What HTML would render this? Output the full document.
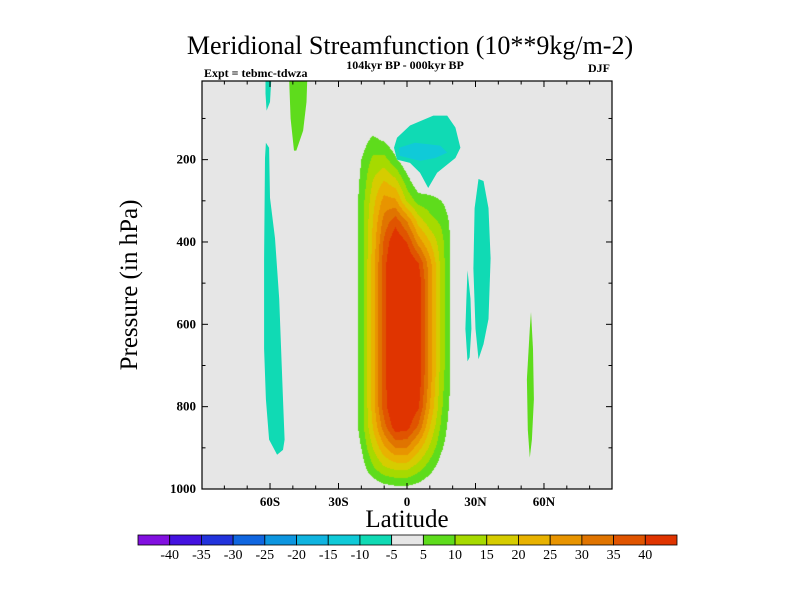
<!DOCTYPE html>
<html><head><meta charset="utf-8">
<style>
body{margin:0;background:#fff;width:800px;height:600px;overflow:hidden;position:relative;font-family:"Liberation Serif",serif;}
#wrap{position:absolute;left:0;top:0;width:800px;height:600px;}
canvas{position:absolute;left:0;top:0;}
svg{position:absolute;left:0;top:0;}
</style></head><body>
<div id="wrap">
<canvas id="field" width="800" height="600"></canvas>
<svg id="svg" width="800" height="600" xmlns="http://www.w3.org/2000/svg">
<text x="410" y="54" text-anchor="middle" font-size="26">Meridional Streamfunction (10**9kg/m-2)</text>
<text x="405" y="69" text-anchor="middle" font-size="12" font-weight="bold">104kyr BP - 000kyr BP</text>
<text x="204" y="77" font-size="12" font-weight="bold">Expt = tebmc-tdwza</text>
<text x="610" y="72" text-anchor="end" font-size="12" font-weight="bold">DJF</text>
<text x="0" y="0" transform="translate(137,285) rotate(-90)" text-anchor="middle" font-size="25">Pressure (in hPa)</text>
<text x="407" y="527" text-anchor="middle" font-size="25">Latitude</text>
<g id="marks"></g>
<g id="axes"></g>
<g id="cbar"></g>
</svg>
</div>
<script>
// ---- data ----
const gridLats = [-25,-20,-15,-10,-5,0,5,10,15,20,25];
const gridPres = [100,150,200,250,300,350,400,450,500,550,600,650,700,750,800,850,900,950,1000];
const gridVals = [
 [0,0,0,0,0,0,0,0,0,0,0],
 [0,2,6,4,0,0,0,0,0,0,0],
 [0,5,11,12,6,0,0,0,0,0,0],
 [0,6,15,20,16,7,0,0,0,0,0],
 [0,7,18,27,26,14,8,7,5,2,0],
 [0,7,20,32,38,30,18,12,9,3,0],
 [0,7,21,36,45,40,28,20,12,3,0],
 [0,7,22,38,48,46,40,27,13,3,0],
 [0,7,22,38,48,46,44,28,13,3,0],
 [0,7,22,38,48,46,44,28,13,3,0],
 [0,7,22,38,48,46,44,28,13,3,0],
 [0,7,22,38,48,46,44,28,13,3,0],
 [0,7,22,38,48,46,44,28,13,3,0],
 [0,7,22,38,48,46,43,27,12,3,0],
 [0,7,22,38,47,46,41,25,11,2,0],
 [0,7,20,33,43,42,34,20,9,1,0],
 [0,5,15,24,30,30,22,14,6,0,0],
 [0,2,9,14,16,16,12,7,2,0,0],
 [0,0,0,2,3,3,2,0,0,0,0]
];
// isolated contour regions: [level value, outline as [lat, pressure] pairs]
const regionLevels = [-7, -7, 7, -7, -12, -7, -7, 7];
const regionOutlines = [
 [[-62,0],[-59.5,0],[-60,60],[-61.5,81],[-62,40]],
 [[-61.8,159],[-60.4,171],[-60,293],[-57.8,391],[-56,538],[-54.3,782],[-53.6,880],[-54.3,905],[-56.9,917],[-60.4,880],[-61.8,782],[-62.6,660],[-62.6,440],[-62.2,196]],
 [[-51.6,0],[-43.7,0],[-44,60],[-45.5,130],[-48.5,178],[-49.5,178],[-51,100]],
 [[-4.4,147],[1.3,117],[11.5,93],[17.6,93],[21.2,122],[23.4,171],[21.2,196],[13.2,232],[9.3,269],[5.7,232],[1.3,208],[-4.4,200],[-5.7,171]],
 [[-3.5,171],[3.5,159],[14.6,166],[17.6,183],[12.4,196],[5.7,203],[-3.1,191]],
 [[31.3,247],[33.5,252],[35.7,318],[36.6,440],[35.7,587],[33.5,648],[31.3,685],[30,611],[29.1,465],[29.6,318]],
 [[26.5,469],[27.8,538],[28.2,611],[27.4,680],[26.5,690],[25.6,611],[26,538]],
 [[54.3,570],[55.2,660],[55.6,782],[54.7,880],[53.8,924],[52.9,856],[52.5,733],[53.8,611]]
];
const cbarColors = ["#8210e0","#4412e0","#2233dc","#1066e0","#0d96e0","#10b4e0","#10cad8","#10dab4","#e6e6e6","#5edc1c","#a6da00","#d6cc00","#e8b200","#e89400","#e07400","#e05400","#e03400"];
const cbarLabels = ["-40","-35","-30","-25","-20","-15","-10","-5","5","10","15","20","25","30","35","40"];
const latTicks = [-60,-30,0,30,60];
const latTickLabels = ["60S","30S","0","30N","60N"];
const presTicks = [200,400,600,800,1000];

// ---- axes ----
const X0=202, X1=612, Y0=81, Y1=489;
function lx(lat){return 407 + lat*2.283;}
function py(p){return 489 - (1000-p)*0.4117;}
function plat(x){return (x-407)/2.283;}
function ppres(y){return 1000-(489-y)/0.4117;}
function levelIndex(v){
  if(v<-5) return Math.max(0,Math.floor((v+45)/5));
  if(v>=5) return Math.min(16,9+Math.floor((v-5)/5));
  return 8;
}
function sample(lat,p){
  const nl=gridLats.length, np=gridPres.length;
  if(lat<gridLats[0]||lat>gridLats[nl-1]||p<gridPres[0]||p>gridPres[np-1]) return 0;
  let i=0; while(i<nl-2 && lat>gridLats[i+1]) i++;
  let j=0; while(j<np-2 && p>gridPres[j+1]) j++;
  const tx=(lat-gridLats[i])/(gridLats[i+1]-gridLats[i]);
  const ty=(p-gridPres[j])/(gridPres[j+1]-gridPres[j]);
  const a=gridVals[j][i],b=gridVals[j][i+1],c=gridVals[j+1][i],d=gridVals[j+1][i+1];
  return (a*(1-tx)+b*tx)*(1-ty)+(c*(1-tx)+d*tx)*ty;
}
function hex(c){return [parseInt(c.substr(1,2),16),parseInt(c.substr(3,2),16),parseInt(c.substr(5,2),16)];}
const rgb = cbarColors.map(hex);
const ctx=document.getElementById('field').getContext('2d');
const img=ctx.createImageData(X1-X0,Y1-Y0);
for(let y=Y0;y<Y1;y++){for(let x=X0;x<X1;x++){
  const v=sample(plat(x+0.5),ppres(y+0.5));
  const c=rgb[levelIndex(v)];
  const k=((y-Y0)*(X1-X0)+(x-X0))*4;
  img.data[k]=c[0];img.data[k+1]=c[1];img.data[k+2]=c[2];img.data[k+3]=255;
}}
ctx.putImageData(img,X0,Y0);

const NS="http://www.w3.org/2000/svg";
function mk(tag,attrs,parent){const e=document.createElementNS(NS,tag);for(const k in attrs)e.setAttribute(k,attrs[k]);parent.appendChild(e);return e;}
const marks=document.getElementById('marks');
regionOutlines.forEach((pts,i)=>{
  const d=pts.map((q,n)=>(n?'L':'M')+lx(q[0]).toFixed(1)+','+Math.max(Y0,py(q[1])).toFixed(1)).join('')+'Z';
  const e=mk('path',{d:d,fill:cbarColors[levelIndex(regionLevels[i])]},marks);
  
  
});

const axes=document.getElementById('axes');
const fr=mk('rect',{x:X0,y:Y0,width:X1-X0,height:Y1-Y0,fill:'none',stroke:'#000','stroke-width':1.2},axes);


for(let lat=-80;lat<=80;lat+=10){
  const major=latTicks.includes(lat);
  const L=major?6:3.5;
  const x=lx(lat);
  const t1=mk('line',{x1:x,x2:x,y1:Y1,y2:Y1-L,stroke:'#000'},axes);
  
  
  const t2=mk('line',{x1:x,x2:x,y1:Y0,y2:Y0+L,stroke:'#000'},axes);
  
  
}
latTicks.forEach((lat,i)=>{
  const t=mk('text',{x:lx(lat),y:506,'text-anchor':'middle','font-size':13,'font-weight':'bold'},axes);
  t.textContent=latTickLabels[i];
  
  
});
for(let p=100;p<=1000;p+=100){
  const major=presTicks.includes(p);
  const L=major?6:3.5;
  const y=py(p);
  const t1=mk('line',{x1:X0,x2:X0+L,y1:y,y2:y,stroke:'#000'},axes);
  
  
  const t2=mk('line',{x1:X1,x2:X1-L,y1:y,y2:y,stroke:'#000'},axes);
  
  
}
presTicks.forEach(p=>{
  const t=mk('text',{x:196,y:py(p)+4,'text-anchor':'end','font-size':13,'font-weight':'bold'},axes);
  t.textContent=String(p);
  
  
});

const cb=document.getElementById('cbar');
const CX0=138, CX1=677, CY=535, CH=10, bw=(CX1-CX0)/cbarColors.length;
cbarColors.forEach((c,i)=>{
  const r=mk('rect',{x:CX0+i*bw,y:CY,width:bw,height:CH,fill:c,stroke:'#000','stroke-width':0.8},cb);
  
  
});
cbarLabels.forEach((s,i)=>{
  const t=mk('text',{x:CX0+(i+1)*bw,y:CY+CH+14,'text-anchor':'middle','font-size':14},cb);
  t.textContent=s;
  
  
});
</script>
</body></html>
